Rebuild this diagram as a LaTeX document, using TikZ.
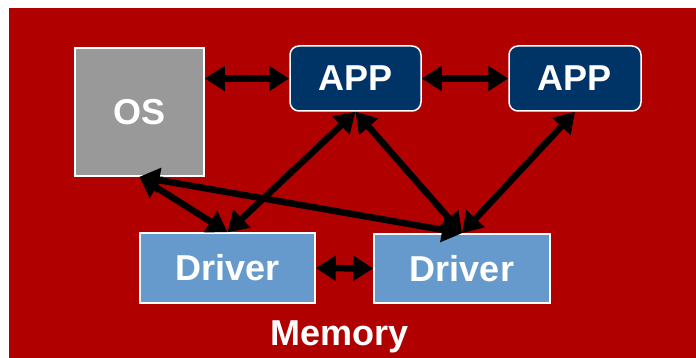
\documentclass[tikz,border=0pt]{standalone}
\usepackage{fontspec}
\setmainfont{Liberation Sans}
\usetikzlibrary{arrows.meta}
\definecolor{bgred}{HTML}{B00000}
\definecolor{appblue}{HTML}{003366}
\definecolor{drvblue}{HTML}{6699CC}
\definecolor{osgray}{HTML}{999999}
\begin{document}
\begin{tikzpicture}[x=1pt,y=-1pt,
  box/.style={draw=white, line width=1.5pt, text=white, inner sep=0pt,
    font=\fontsize{36}{40}\selectfont\bfseries},
  osbox/.style={box, fill=osgray},
  appbox/.style={box, fill=appblue, rounded corners=9pt},
  drvbox/.style={box, fill=drvblue},
  link/.style={line width=6.5pt, black,
    {Triangle[length=20pt,width=24pt]}-{Triangle[length=20pt,width=24pt]}}]
  % canvas and red panel
  \useasboundingbox (0,0) rectangle (696,358);
  \fill[white] (0,0) rectangle (696,358);
  \fill[bgred] (9,8) rectangle (696,358);
  % boxes
  \node[osbox, minimum width=129pt, minimum height=128pt] (os) at (139.5,112) {OS};
  \node[appbox, minimum width=131pt, minimum height=65pt] (a1) at (355.5,78.5) {APP};
  \node[appbox, minimum width=132pt, minimum height=65pt] (a2) at (575,78.5) {APP};
  \node[drvbox, minimum width=175pt, minimum height=70pt] (d1) at (227.5,268) {Driver};
  \node[drvbox, minimum width=176pt, minimum height=69pt] (d2) at (462,268.5) {Driver};
  \node[text=white, font=\fontsize{36}{40}\selectfont\bfseries, anchor=base] (mem) at (340,345) {Memory};
  % connectors
  \draw[link] (os.east |- a1.west) -- (a1.west);
  \draw[link] (a1.east) -- (a2.west);
  \draw[link] (os.south) -- (d1.north);
  \draw[link] (os.south) -- (d2.north);
  \draw[link] (d1.north) -- (a1.south);
  \draw[link] (a1.south) -- (d2.north);
  \draw[link] (a2.south) -- (d2.north);
  \draw[link] (d1.east) -- (d2.west);
\end{tikzpicture}
\end{document}
